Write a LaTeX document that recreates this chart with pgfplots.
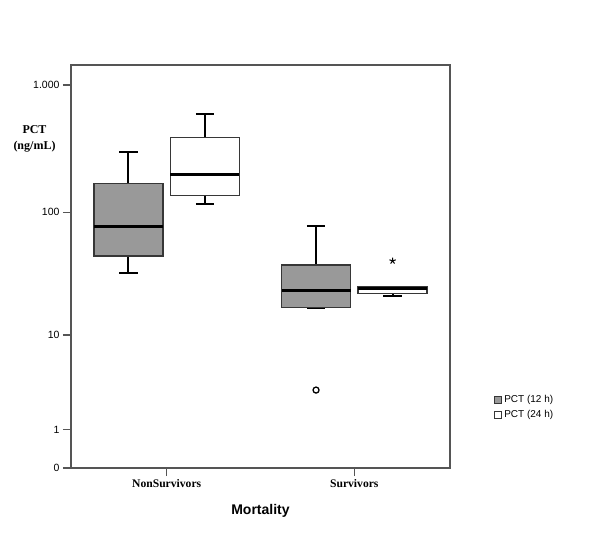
\documentclass[border=0pt]{standalone}
\usepackage{pgfplots}
\pgfplotsset{compat=1.18}
\usepgfplotslibrary{statistics}
\usepackage{fontspec}
\setmainfont{Liberation Sans}
\newfontfamily\timesfont{Liberation Serif}
\definecolor{boxgray}{RGB}{153,153,153}
\definecolor{axisgray}{RGB}{85,85,85}
\definecolor{boxedge}{RGB}{55,55,55}
\pgfplotsset{
  mybox/.style={
    boxplot/draw direction=y,
    boxplot/box extend=0.368,
    boxplot/whisker extend=0.098,
    boxplot/every box/.style={draw=boxedge, line width=1.5bp, fill=#1},
    boxplot/every median/.style={draw=black, line width=3bp},
    boxplot/every whisker/.style={draw=black, line width=2bp},
    legend image code/.code={\draw[draw=boxedge, line width=1.2bp, fill=#1] (0bp,-3.5bp) rectangle (7bp,3.5bp);},
  }
}
% The y axis is SPSS's log(PCT+1) scale: every value below is log10(PCT+1).
% Raw PCT (ng/mL) values read off the chart are given in the comments.
\begin{document}
\begin{tikzpicture}
\useasboundingbox (-71bp,-65bp) rectangle (529bp,468bp);
\begin{axis}[
  scale only axis, width=379bp, height=403bp,
  xmin=0.49, xmax=2.51, ymin=0, ymax=3.158,
  axis line style={draw=axisgray, line width=1.3bp},
  tick style={draw=axisgray, line width=1.3bp},
  tick align=outside, tick pos=left, major tick length=8bp,
  xtick={1,2}, xticklabels={NonSurvivors,Survivors},
  % ticks at PCT = 0, 1, 10, 100, 1000
  ytick={0,0.30103,1.04139,2.00432,3.00043}, yticklabels={0,1,10,100,1.000},
  yticklabel style={font=\fontsize{10.5bp}{12bp}\selectfont},
  xticklabel style={font=\fontsize{11.6bp}{13bp}\selectfont\timesfont\bfseries},
  xlabel={Mortality},
  xlabel style={font=\fontsize{14bp}{16bp}\selectfont\bfseries, at={(axis description cs:0.5,-0.1166)}, anchor=base},
  ylabel={PCT\\(ng/mL)},
  ylabel style={rotate=-90, align=center, font=\fontsize{12bp}{16bp}\selectfont\timesfont\bfseries, at={(axis description cs:-0.0963,0.817)}, anchor=center},
  legend style={at={(axis description cs:1.108,0.19)}, anchor=north west, draw=none, fill=none, font=\fontsize{10bp}{12bp}\selectfont, row sep=2bp},
  legend cell align=left,
]
% NonSurvivors, PCT (12 h): 32.6, 45, 77, 168, 299
\addplot[mybox=boxgray, mark=o, boxplot prepared={draw position=0.796, lower whisker=1.52634, lower quartile=1.66276, median=1.89209, upper quartile=2.22789, upper whisker=2.47712}] coordinates {};
\addlegendentry{PCT (12 h)}
% NonSurvivors, PCT (24 h): 116, 135, 197, 387, 595
\addplot[mybox=white, mark=star, boxplot prepared={draw position=1.204, lower whisker=2.06819, lower quartile=2.13354, median=2.29667, upper quartile=2.58883, upper whisker=2.77525}] coordinates {};
\addlegendentry{PCT (24 h)}
% Survivors, PCT (12 h): 17.1, 17.1, 23.6, 38, 78; outlier 3.08
\addplot[forget plot, mybox=boxgray, mark=o, mark size=3bp, mark options={line width=1.3bp, draw=black, fill=white},
  boxplot prepared={draw position=1.796, lower whisker=1.25768, lower quartile=1.25768, median=1.39094, upper quartile=1.59106, upper whisker=1.89763}]
  table[row sep=\\, y index=0] {0.61066\\};
% Survivors, PCT (24 h): 21.4, 22.4, 24.4, 25.3, 25.3; extreme 41
\addplot[forget plot, mybox=white, mark=star, mark size=3.3bp, mark options={line width=1bp, draw=black, fill=black},
  boxplot prepared={draw position=2.204, lower whisker=1.35025, lower quartile=1.36922, median=1.40483, upper quartile=1.41996, upper whisker=1.41996}]
  table[row sep=\\, y index=0] {1.62325\\};
\end{axis}
\end{tikzpicture}
\end{document}
